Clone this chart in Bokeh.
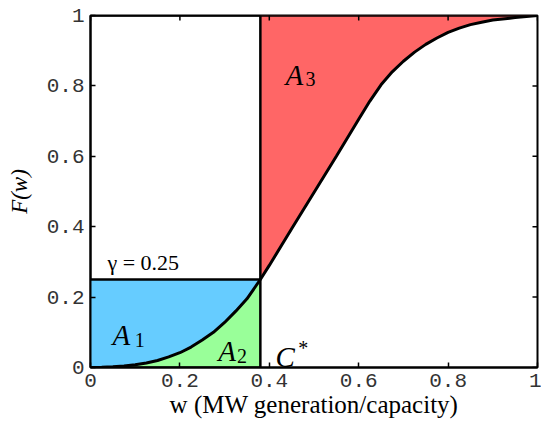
import numpy as np
from bokeh.plotting import figure
from bokeh.models import Label, Range1d, FixedTicker
from bokeh.embed import file_html
from bokeh.resources import INLINE

# --- data ---
w_vals = [0, .025, .05, .075, .1, .125, .15, .175, .2, .225, .25, .275, .3, .325, .35, .38,
          .4, .45, .5, .55, .6, .625, .65, .675, .7, .725, .75, .775, .8, .825, .85, .875,
          .9, .95, 1.0]
F_vals = [0, .0005, .002, .004, .008, .013, .02, .03, .042, .058, .078, .1, .128, .16, .195, .25,
          .29, .394, .497, .6, .705, .757, .803, .840, .870, .896, .918, .936, .952, .964, .974, .981,
          .987, .994, 1.0]
gamma = 0.25
c_star = 0.38
x_ticks = [0, 0.2, 0.4, 0.6, 0.8, 1]
x_tick_labels = ["0", "0.2", "0.4", "0.6", "0.8", "1"]
y_ticks = [0, 0.2, 0.4, 0.6, 0.8, 1]
y_tick_labels = ["0", "0.2", "0.4", "0.6", "0.8", "1"]

w = np.array(w_vals)
F = np.array(F_vals)
lo = w <= c_star + 1e-9
hi = w >= c_star - 1e-9

TICK_FONT = "Liberation Mono"
SERIF = "Liberation Serif"

p = figure(width=541, height=421, output_backend="svg", toolbar_location=None,
           x_range=Range1d(0, 1), y_range=Range1d(0, 1),
           min_border_left=90, min_border_top=15, min_border_right=4, min_border_bottom=54)
p.grid.visible = False
p.outline_line_color = "black"
p.outline_line_width = 2
p.background_fill_color = "white"
p.border_fill_color = "white"

# fills
p.varea(x=w[lo], y1=F[lo], y2=np.full(lo.sum(), gamma), fill_color="#66CCFF")
p.varea(x=w[lo], y1=np.zeros(lo.sum()), y2=F[lo], fill_color="#99FF99")
p.varea(x=w[hi], y1=F[hi], y2=np.ones(hi.sum()), fill_color="#FF6666")

# box lines
p.line(x=[0, c_star], y=[gamma, gamma], line_color="black", line_width=2.5)
p.line(x=[c_star, c_star], y=[0, 1], line_color="black", line_width=2.5)
p.line(x=[0, 1], y=[1, 1], line_color="black", line_width=2.5)
p.line(x=[0, c_star], y=[0, 0], line_color="black", line_width=2.5)

# CDF curve
p.line(x=w, y=F, line_color="black", line_width=3)

# mirrored inward ticks on top and right edges
p.scatter(x=x_ticks, y=[1] * len(x_ticks), marker="dash", angle=np.pi / 2, size=10,
          line_color="black", line_width=1.5)
p.scatter(x=[1] * len(y_ticks), y=y_ticks, marker="dash", size=10,
          line_color="black", line_width=1.5)

def style_axis(ax, ticks, labels):
    ax.ticker = FixedTicker(ticks=ticks)
    ax.major_label_overrides = {t: l for t, l in zip(ticks, labels)}
    ax.minor_tick_line_color = None
    ax.major_tick_in = 5
    ax.major_tick_out = 0
    ax.major_tick_line_width = 1.5
    ax.axis_line_width = 2
    ax.axis_line_color = "black"
    ax.major_label_text_font = TICK_FONT
    ax.major_label_text_font_size = "21px"
    ax.major_label_text_color = "#333333"

style_axis(p.xaxis[0], x_ticks, x_tick_labels)
style_axis(p.yaxis[0], y_ticks, y_tick_labels)
p.xaxis[0].major_label_standoff = 6
p.yaxis[0].major_label_standoff = 6

p.yaxis[0].axis_label = "F(w)"
p.yaxis[0].axis_label_text_font = SERIF
p.yaxis[0].axis_label_text_font_style = "italic"
p.yaxis[0].axis_label_text_font_size = "23px"
p.yaxis[0].axis_label_text_color = "black"
p.yaxis[0].axis_label_standoff = 12

p.xaxis[0].axis_label = "w (MW generation/capacity)"
p.xaxis[0].axis_label_text_font = SERIF
p.xaxis[0].axis_label_text_font_style = "normal"
p.xaxis[0].axis_label_text_font_size = "25px"
p.xaxis[0].axis_label_text_color = "black"
p.xaxis[0].axis_label_standoff = 1

def lab(x, y, text, size, style="italic", baseline="alphabetic"):
    p.add_layout(Label(x=x, y=y, text=text, text_font=SERIF, text_font_style=style,
                       text_font_size=size, text_color="black", text_baseline=baseline,
                       text_align="left"))

# region labels
lab(0.049, 0.091, "A", "29px")
lab(0.099, 0.077, "1", "20px", style="normal")
lab(0.286, 0.048, "A", "29px")
lab(0.328, 0.034, "2", "20px", style="normal")
lab(0.436, 0.832, "A", "29px")
lab(0.481, 0.821, "3", "20px", style="normal")
lab(0.414, 0.031, "C", "29px")
lab(0.465, 0.088, "*", "20px", style="normal", baseline="top")
lab(0.038, 0.298, "\u03b3 = 0.25", "22px", style="normal")

open("out.html", "w").write(file_html(p, INLINE))
